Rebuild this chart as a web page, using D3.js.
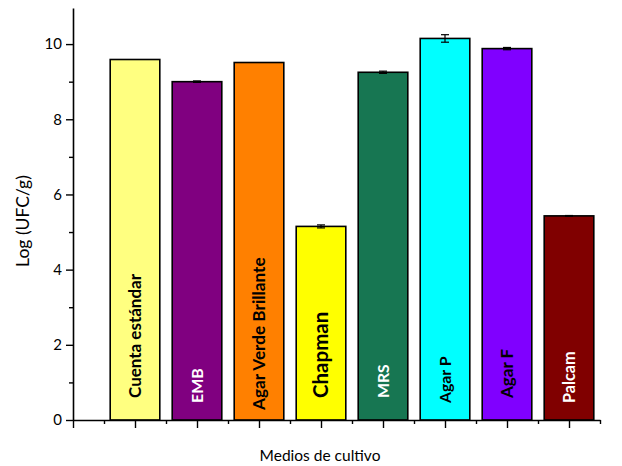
<!DOCTYPE html>
<html><head><meta charset="utf-8">
<script src="https://cdn.jsdelivr.net/npm/d3@7"></script>
<style>body{margin:0;background:#fff}svg{display:block}</style>
</head><body><svg id="c" width="622" height="466"></svg>
<script>
const categories = ["Cuenta estándar","EMB","Agar Verde Brillante","Chapman","MRS","Agar P","Agar F","Palcam"];
const values = [9.59, 9.00, 9.51, 5.15, 9.25, 10.15, 9.88, 5.43];
const errors = [0, 0.02, 0, 0.04, 0.03, 0.1, 0.03, 0.01];
const colors = ["#FFFF80","#800080","#FF8000","#FFFF00","#177652","#00FFFF","#8000FF","#800000"];
const labelColors = ["#000","#fff","#000","#000","#fff","#000","#000","#fff"];
const yTicks = [0,2,4,6,8,10];
const yMinor = [1,3,5,7,9];
const xMajor = [0,1,2,3,4,5,6,7,8];
const xMinor = [0.5,1.5,2.5,3.5,4.5,5.5,6.5,7.5,8.5];

// layout (not data)
const labelSizes = [17,16,17.2,20.5,15.8,15.8,17,16.2];
const labelBottom = [398,403,410,398,398,403,398,403];

const svg = d3.select("#c");
const FONT = "Lato, sans-serif";
const x = d3.scaleLinear().domain([0,8.5]).range([73,600]);
const y = d3.scaleLinear().domain([0,10.96]).range([420,8]);
const bw = x(0.8)-x(0);

// bars
const g = svg.append("g");
g.selectAll("rect").data(values).join("rect")
  .attr("x",(d,i)=>x(i+1)-bw/2)
  .attr("y",d=>y(d))
  .attr("width",bw)
  .attr("height",d=>y(0)-y(d))
  .attr("fill",(d,i)=>colors[i])
  .attr("stroke","#000").attr("stroke-width",1.6);

// error bars
values.forEach((v,i)=>{
  if(!errors[i]) return;
  const cx = x(i+1), hw = 4;
  const e = g.append("g").attr("stroke","#000").attr("stroke-width",1.2);
  e.append("line").attr("x1",cx).attr("x2",cx).attr("y1",y(v+errors[i])).attr("y2",y(v-errors[i]));
  e.append("line").attr("x1",cx-hw).attr("x2",cx+hw).attr("y1",y(v+errors[i])).attr("y2",y(v+errors[i]));
  e.append("line").attr("x1",cx-hw).attr("x2",cx+hw).attr("y1",y(v-errors[i])).attr("y2",y(v-errors[i]));
});

// labels in bars
categories.forEach((c,i)=>{
  const cx = x(i+1);
  svg.append("text")
    .attr("transform",`translate(${cx},${labelBottom[i]}) rotate(-90)`)
    .attr("dy","0.35em")
    .attr("text-anchor","start")
    .attr("font-family",FONT).attr("font-weight","bold")
    .attr("font-size",labelSizes[i])
    .attr("fill",labelColors[i])
    .text(c);
});

// y axis
const ya = svg.append("g").attr("transform","translate(73,0)")
  .call(d3.axisLeft(y).tickValues(yTicks).tickSize(7).tickPadding(4).tickSizeOuter(0));
ya.append("g").call(d3.axisLeft(y).tickValues(yMinor).tickSize(4).tickFormat("").tickSizeOuter(0)).select(".domain").remove();
ya.selectAll("text").attr("font-family",FONT).attr("font-size",15).attr("fill","#000");

// x axis
const xa = svg.append("g").attr("transform","translate(0,420)")
  .call(d3.axisBottom(x).tickValues(xMajor).tickSize(8).tickFormat("").tickSizeOuter(0));
xa.append("g").call(d3.axisBottom(x).tickValues(xMinor).tickSize(4).tickFormat("").tickSizeOuter(0)).select(".domain").remove();

svg.selectAll(".domain").attr("stroke-width",1.6).attr("stroke","#000");
svg.selectAll(".tick line").attr("stroke-width",1.4).attr("stroke","#000");

// axis titles
svg.append("text").attr("x",320).attr("y",461).attr("text-anchor","middle")
  .attr("font-family",FONT).attr("font-size",15.5).text("Medios de cultivo");
svg.append("text").attr("transform","translate(23,221) rotate(-90)").attr("text-anchor","middle")
  .attr("dy","0.35em")
  .attr("font-family",FONT).attr("font-size",17.5).text("Log (UFC/g)");
</script></body></html>
